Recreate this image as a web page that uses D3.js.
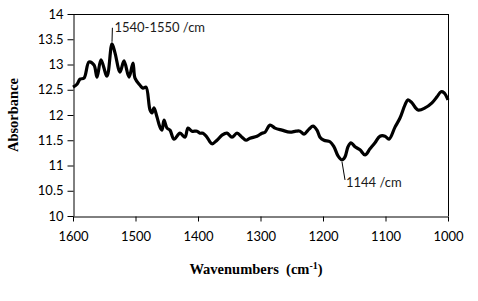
<!DOCTYPE html>
<html>
<head>
<meta charset="utf-8">
<script src="https://cdn.jsdelivr.net/npm/d3@7"></script>
<style>
html,body{margin:0;padding:0;background:#fff;}
svg{display:block;}
</style>
</head>
<body>
<svg id="chart" width="478" height="301"></svg>
<script>
const wavenumbers = [1600,1593.6,1588.8,1582.4,1574.4,1566.4,1561.6,1555.2,1545.6,1537.6,1532.8,1524.8,1518.4,1510.4,1504,1500.8,1492.8,1488,1483.2,1476.8,1473.6,1470.4,1465.6,1460.8,1457.6,1454.4,1449.6,1444.8,1438.4,1428.8,1420.8,1416,1409.6,1401.6,1396.8,1392,1385.6,1377.6,1369.6,1361.6,1353.6,1345.6,1337.6,1329.6,1323.2,1316.8,1305.6,1297.6,1292.8,1284.8,1276.8,1265.6,1252.8,1243.2,1236.8,1230.4,1222.4,1216,1209.6,1204.8,1198.4,1188.8,1182.4,1176,1169.6,1164.8,1160,1155.2,1148.8,1140.8,1132.8,1124.8,1116.8,1108.8,1100.8,1094.4,1084.8,1076.8,1068.8,1064,1057.6,1048,1036.8,1025.6,1017.6,1011.2,1006.4,1000];
const absorbance = [12.55,12.61,12.71,12.73,13.05,12.99,12.75,13.09,12.77,13.41,13.23,12.85,13.07,12.75,13.03,12.73,12.59,12.53,12.55,12.10,12.04,12.14,11.96,11.76,11.70,11.90,11.74,11.70,11.52,11.64,11.56,11.74,11.68,11.68,11.64,11.64,11.56,11.43,11.50,11.60,11.64,11.56,11.64,11.56,11.50,11.54,11.58,11.64,11.66,11.80,11.74,11.70,11.66,11.68,11.68,11.62,11.72,11.78,11.70,11.56,11.50,11.47,11.37,11.19,11.11,11.17,11.37,11.45,11.37,11.31,11.21,11.33,11.45,11.58,11.58,11.52,11.76,11.94,12.20,12.30,12.24,12.10,12.14,12.24,12.36,12.46,12.44,12.30];
const xTicks = [1600,1500,1400,1300,1200,1100,1000];
const yTicks = [10,10.5,11,11.5,12,12.5,13,13.5,14];
const annotations = [
  {wn:1537.6, v:13.41, text:"1540-1550 /cm", dx:0.4, dy:-16, tdx:2, tdy:4},
  {wn:1169.6, v:11.11, text:"1144 /cm", dx:3, dy:20, tdx:1, tdy:7}
];

const svg = d3.select("#chart");
const L = 73, R = 448, T = 14, B = 216;
const x = d3.scaleLinear().domain([1600,1000]).range([L,R]);
const y = d3.scaleLinear().domain([10,14]).range([B,T]);
const labelFont = "Lato, 'Open Sans', sans-serif";

// frame top & right
svg.append("line").attr("x1",L).attr("x2",R).attr("y1",T+0.5).attr("y2",T+0.5).attr("stroke","#000");
svg.append("line").attr("x1",R+0.5).attr("x2",R+0.5).attr("y1",T).attr("y2",B).attr("stroke","#000");

const xAxis = svg.append("g").attr("transform",`translate(0,${B+0.5})`)
  .call(d3.axisBottom(x).tickValues(xTicks).tickSize(5).tickSizeOuter(0).tickFormat(d3.format("d")));
const yAxis = svg.append("g").attr("transform",`translate(${L+0.5},0)`)
  .call(d3.axisLeft(y).tickValues(yTicks).tickSize(6).tickSizeOuter(0).tickFormat(d=>String(d)));
[xAxis,yAxis].forEach(g=>{
  g.selectAll("path,line").attr("stroke","#000").attr("stroke-width",1);
  g.selectAll("text").attr("font-family",labelFont).attr("font-size",13).attr("fill","#000");
});
xAxis.selectAll("text").attr("dy","1.25em");
yAxis.selectAll("text").attr("x",-10);

const line = d3.line().x((d,i)=>x(wavenumbers[i])).y(d=>y(d)).curve(d3.curveCatmullRom.alpha(0.5));
svg.append("path").datum(absorbance).attr("d",line)
  .attr("fill","none").attr("stroke","#000").attr("stroke-width",3.2).attr("stroke-linejoin","round");

annotations.forEach(a=>{
  const px = x(a.wn), py = y(a.v);
  svg.append("line").attr("x1",px).attr("y1",a.dy<0?py-2:py+2).attr("x2",px+a.dx).attr("y2",py+a.dy)
    .attr("stroke","#000").attr("stroke-width",1);
  svg.append("text").attr("x",px+a.dx+a.tdx).attr("y",py+a.dy+a.tdy)
    .attr("font-family",labelFont).attr("font-size",13).attr("fill","#1a1a1a").text(a.text);
});

svg.append("text").attr("transform",`translate(18,${(T+B)/2}) rotate(-90)`)
  .attr("text-anchor","middle").attr("font-family","'Liberation Serif', 'Times New Roman', serif")
  .attr("font-weight","bold").attr("font-size",14.5).text("Absorbance");

const xt = svg.append("text").attr("x",256).attr("y",274).attr("text-anchor","middle")
  .attr("font-family","'Liberation Serif', 'Times New Roman', serif").attr("font-weight","bold").attr("font-size",14.5);
xt.append("tspan").text("Wavenumbers\u00a0\u00a0(cm");
xt.append("tspan").attr("dy",-5).attr("font-size",10).text("-1");
xt.append("tspan").attr("dy",5).text(")");
</script>
</body>
</html>
